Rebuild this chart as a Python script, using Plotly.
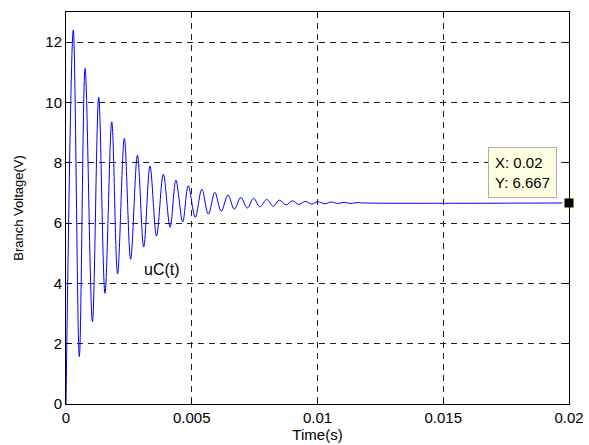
import plotly.graph_objects as go

# extrema of uC(t)
t_s = [0.0, 0.00029, 0.00053, 0.00076, 0.00105, 0.0013, 0.00155, 0.00182, 0.00205,
       0.00232, 0.00257, 0.00284, 0.00309, 0.00334, 0.0036, 0.00387, 0.00414,
       0.00437, 0.00464, 0.00486, 0.00514, 0.0054, 0.00566, 0.00592, 0.00617,
       0.00644, 0.00669, 0.00695, 0.00721, 0.00746, 0.00771, 0.00798, 0.00824,
       0.00848, 0.00875, 0.009, 0.00926, 0.00951, 0.00978, 0.01, 0.0103, 0.01055,
       0.0108, 0.01106, 0.0113, 0.01157, 0.0118, 0.02]
u_c = [0.0, 12.4, 1.57, 11.13, 2.73, 10.17, 3.67, 9.36, 4.31,
       8.81, 4.80, 8.25, 5.21, 7.89, 5.57, 7.62, 5.86,
       7.42, 6.04, 7.24, 6.19, 7.12, 6.30, 7.02, 6.39,
       6.93, 6.46, 6.85, 6.50, 6.82, 6.54, 6.78, 6.56,
       6.76, 6.60, 6.74, 6.62, 6.72, 6.63, 6.71, 6.64, 6.70,
       6.65, 6.69, 6.65, 6.68, 6.667, 6.667]

tip_x = [0.02]
tip_y = [6.667]

x_ticks = [0, 0.005, 0.01, 0.015, 0.02]
x_labels = ["0", "0.005", "0.01", "0.015", "0.02"]
y_ticks = [0, 2, 4, 6, 8, 10, 12]

FONT = "Liberation Sans, Arial"

fig = go.Figure()
fig.add_trace(go.Scatter(
    x=t_s, y=u_c, mode="lines",
    line=dict(color="#0000ff", width=1, shape="spline", smoothing=1.0),
    showlegend=False, hoverinfo="skip"))
fig.add_trace(go.Scatter(
    x=tip_x, y=tip_y, mode="markers",
    marker=dict(symbol="square", size=11, color="black",
                line=dict(color="#ffffe1", width=2)),
    showlegend=False, cliponaxis=False, hoverinfo="skip"))

fig.add_annotation(x=0.00302, y=4.47, text="uC(t)", showarrow=False,
                   xanchor="left", yanchor="middle",
                   font=dict(family=FONT, size=16, color="black"))
fig.add_annotation(x=0.01952, y=6.84, text="X: 0.02<br>Y: 6.667",
                   showarrow=False, xanchor="right", yanchor="bottom",
                   align="left", bgcolor="#ffffe1", bordercolor="#b0b0b0",
                   borderwidth=1, borderpad=6,
                   font=dict(family=FONT, size=15, color="black"))

axis_common = dict(
    showline=True, linecolor="black", linewidth=1, mirror="ticks",
    ticks="inside", ticklen=5, tickcolor="black",
    showgrid=True, gridcolor="#222222", griddash="6px,5px", gridwidth=1,
    zeroline=False, automargin=False,
    tickfont=dict(family=FONT, size=15, color="black"),
)

fig.update_xaxes(range=[0, 0.02], tickvals=x_ticks, ticktext=x_labels,
                 title=dict(text="Time(s)", standoff=4,
                            font=dict(family=FONT, size=15, color="black")),
                 **axis_common)
fig.update_yaxes(range=[0, 13], tickvals=y_ticks,
                 title=dict(text="Branch Voltage(V)", standoff=18,
                            font=dict(family=FONT, size=13, color="black")),
                 **axis_common)

fig.update_layout(
    width=589, height=445,
    margin=dict(l=66, r=20, t=12, b=41),
    paper_bgcolor="white", plot_bgcolor="white",
    font=dict(family=FONT, color="black"),
)

fig.write_html("out.html", config={"displayModeBar": False},
               post_script="document.body.style.margin='0';document.body.style.padding='0';")
